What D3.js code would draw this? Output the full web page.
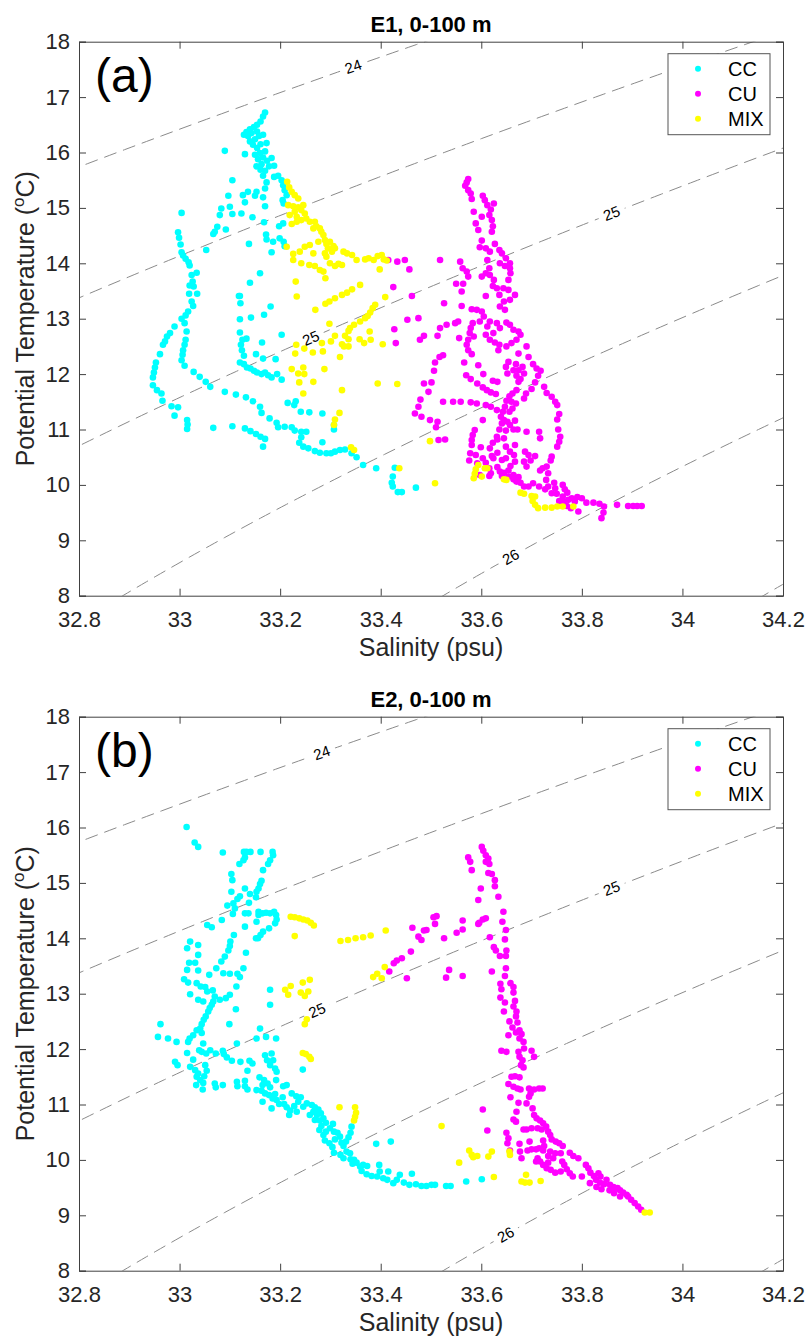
<!DOCTYPE html>
<html>
<head>
<meta charset="utf-8">
<script src="https://cdn.jsdelivr.net/npm/d3@7"></script>
<style>
  body { margin: 0; background: #fff; }
  text { font-family: "Liberation Sans", Arial, sans-serif; }
</style>
</head>
<body>
<script>
// T-S data, [salinity (psu), potential temperature (C)]
var e1CC = [[33.170,16.72],[33.166,16.65],[33.161,16.56],[33.154,16.50],[33.148,16.46],[33.140,16.42],[33.133,16.37],[33.128,16.32],[33.136,16.30],[33.143,16.35],[33.154,16.38],[33.158,16.30],[33.166,16.32],[33.150,16.24],[33.140,16.20],[33.146,16.14],[33.154,16.08],[33.161,16.15],[33.173,16.17],[33.170,16.02],[33.160,15.99],[33.150,15.96],[33.156,15.88],[33.166,15.91],[33.174,15.85],[33.163,15.79],[33.153,15.75],[33.161,15.69],[33.170,15.67],[33.178,15.75],[33.166,15.58],[33.183,15.90],[33.188,15.76],[33.130,15.97],[33.090,16.03],
  [33.188,15.56],[33.196,15.58],[33.203,15.50],[33.206,15.41],[33.209,15.32],[33.205,15.14],[33.207,15.08],[33.213,15.23],
  [33.173,15.46],[33.170,15.35],[33.153,15.29],[33.150,15.22],[33.136,15.29],[33.126,15.23],[33.130,15.10],[33.166,15.19],[33.170,15.03],[33.145,14.83],[33.123,14.90],[33.105,14.89],[33.100,15.02],[33.097,15.22],[33.105,15.50],[33.083,14.99],[33.080,14.87],[33.075,14.66],[33.070,14.57],[33.067,14.53],[33.092,14.61],[33.053,14.24],[33.138,14.35],[33.168,14.74],[33.172,14.52],[33.173,14.43],[33.186,14.39],[33.183,14.20],[33.199,14.45],[33.207,14.39],[33.209,14.31],[33.198,14.67],[33.206,14.72],[33.160,13.82],[33.140,13.65],[33.118,13.41],[33.004,14.91],
  [32.997,14.56],[32.999,14.46],[33.002,14.34],[33.004,14.20],[33.007,14.14],[33.012,14.08],[33.018,14.02],[33.020,13.96],[33.024,13.79],[33.034,13.83],[33.026,13.67],[33.020,13.60],[33.028,13.58],[33.035,13.45],[33.019,13.45],
  [33.024,13.31],[33.027,13.23],[33.017,13.13],[33.012,13.06],[33.004,13.00],[33.010,12.92],[32.990,12.86],[32.981,12.74],[32.975,12.68],[32.971,12.59],[32.967,12.53],[32.961,12.36],[32.953,12.21],[32.951,12.12],[32.949,12.03],[32.947,11.94],[32.947,11.80],[32.955,11.71],[32.964,11.65],[32.966,11.52],[32.984,11.42],[32.997,11.40],[32.990,11.25],
  [33.014,12.77],[33.012,12.62],[33.010,12.53],[33.007,12.43],[33.006,12.35],[33.004,12.25],[33.010,12.15],[33.028,12.04],[33.040,11.95],[33.052,11.86],[33.061,11.77],[33.090,11.68],[33.112,11.63],[33.132,11.58],[33.146,11.51],[33.160,11.41],[33.163,11.30],[33.179,11.20],[33.193,11.12],[33.196,11.04],[33.209,11.05],[33.223,11.04],[33.229,10.98],[33.242,10.96],[33.252,10.96],[33.242,10.86],[33.238,10.76],[33.246,10.69],[33.256,10.66],[33.269,10.61],[33.279,10.58],[33.292,10.57],[33.301,10.57],[33.309,10.60],[33.319,10.63],[33.329,10.64],[33.342,10.57],[33.352,10.50],
  [33.015,11.17],[33.016,11.09],[33.015,11.01],[33.067,11.03],[33.105,11.06],[33.130,11.02],[33.141,10.97],[33.152,10.92],[33.161,10.87],[33.170,10.83],[33.166,10.69],
  [33.120,13.41],[33.121,13.28],[33.120,12.99],[33.120,12.75],[33.125,12.62],[33.133,12.64],[33.122,12.53],[33.124,12.43],[33.128,12.33],[33.120,12.21],[33.128,12.18],[33.134,12.12],[33.141,12.10],[33.148,12.06],[33.154,12.03],[33.163,12.00],[33.170,12.03],[33.176,11.98],[33.183,11.94],[33.194,12.00],[33.203,11.90],[33.142,13.02],[33.168,13.07],[33.181,13.22],[33.164,12.57],[33.152,12.36],[33.166,12.28],[33.191,12.27],[33.203,12.71],[33.215,11.48],[33.231,11.51],[33.228,11.44],[33.241,11.32],[33.258,11.31],[33.284,11.29],[33.307,11.08],[33.307,11.00],[33.284,10.77],
  [33.365,10.36],[33.391,10.30],[33.428,10.31],[33.424,10.15],[33.422,10.04],[33.424,9.97],[33.434,9.87],[33.442,9.87],[33.470,9.95]];

var e1CU = [[33.574,15.52],[33.571,15.46],[33.568,15.40],[33.574,15.32],[33.579,15.26],[33.581,15.16],[33.603,15.22],[33.607,15.14],[33.612,15.05],[33.625,15.08],[33.619,14.97],[33.616,14.87],[33.621,14.78],[33.623,14.67],[33.621,14.57],[33.585,14.93],[33.601,14.84],[33.589,14.72],[33.594,14.60],[33.601,14.41],[33.597,14.29],[33.609,14.27],[33.617,14.21],[33.627,14.35],[33.636,14.24],[33.641,14.18],[33.649,14.09],[33.657,14.00],[33.647,13.95],[33.637,14.00],[33.612,14.06],[33.616,13.91],[33.609,13.82],[33.601,13.76],[33.617,13.79],[33.625,13.70],[33.623,13.59],[33.631,13.55],[33.636,13.43],[33.644,13.55],[33.654,13.52],[33.654,13.70],[33.658,13.82],[33.657,13.91],[33.667,13.43],[33.657,13.34],[33.645,13.31],[33.637,13.22],[33.647,13.16],[33.609,13.41],
  [33.558,14.03],[33.563,13.91],[33.571,13.85],[33.574,13.76],[33.550,13.63],[33.564,13.63],[33.561,13.49],[33.561,13.23],[33.526,13.28],[33.581,13.17],[33.591,13.16],[33.601,13.13],[33.605,13.04],[33.617,12.95],[33.612,12.86],[33.631,12.92],[33.637,12.83],[33.650,12.93],[33.657,12.89],[33.664,12.80],[33.674,12.77],[33.678,12.71],[33.670,12.62],[33.660,12.56],[33.650,12.50],[33.634,12.43],[33.624,12.74],[33.609,12.71],[33.617,12.62],[33.627,12.57],[33.636,12.53],[33.583,12.92],[33.579,12.83],[33.577,12.74],[33.585,12.68],[33.574,12.62],[33.571,12.53],[33.574,12.43],[33.581,12.36],[33.597,12.95],[33.548,12.92],[33.554,12.95],[33.531,12.89],[33.518,12.83],[33.513,12.69],[33.486,12.69],[33.478,12.62],[33.556,12.65],[33.690,12.50],[33.694,12.31],[33.674,12.37],[33.518,14.06],[33.448,14.06],[33.457,13.89],[33.462,13.41],[33.475,13.01],[33.453,12.98],[33.524,12.34],[33.517,12.31],
  [33.415,14.06],[33.433,14.03],[33.425,13.57],[33.430,12.56],[33.427,12.81],
  [33.508,12.21],[33.506,12.06],[33.501,11.85],[33.495,11.68],[33.486,11.83],[33.479,11.54],[33.475,11.41],[33.468,11.29],[33.481,11.23],[33.498,11.17],[33.513,11.14],[33.510,11.04],[33.524,11.50],[33.544,11.50],[33.559,11.50],[33.579,11.49],[33.591,11.47],[33.515,10.81],[33.528,10.82],[33.566,12.21],[33.594,12.16],[33.570,11.98],[33.579,11.91],[33.592,11.83],[33.604,12.00],[33.603,11.76],[33.611,11.71],[33.619,11.67],[33.629,11.64],[33.623,11.88],[33.632,11.86],[33.609,11.44],[33.619,11.41],[33.631,11.35],[33.603,11.17],[33.587,10.99],[33.583,10.90],[33.581,10.81],[33.581,10.72],[33.576,10.44],[33.589,10.54],[33.599,10.68],[33.592,10.39],[33.603,10.48],[33.609,10.40],[33.617,10.66],[33.623,10.76],[33.621,10.52],[33.616,10.30],[33.619,10.21],[33.624,10.48],[33.632,10.58],[33.641,10.45],[33.649,10.48],[33.632,10.32],[33.631,10.87],[33.636,11.00],[33.632,10.82],[33.641,11.11],[33.645,11.17],[33.639,11.23],[33.643,11.32],[33.647,11.41],[33.650,11.52],[33.656,11.60],[33.662,11.65],[33.670,11.71],[33.674,11.86],[33.670,11.97],[33.664,12.07],[33.674,12.07],[33.652,12.01],[33.649,12.13],[33.654,12.22],[33.669,12.18],[33.682,12.13],[33.685,12.01],[33.678,11.91],[33.660,11.50],[33.669,11.47],[33.662,11.38],[33.656,11.32],[33.652,11.14],[33.657,11.08],[33.667,11.16],[33.672,11.00],[33.664,11.00],[33.649,10.98],[33.645,10.84],[33.649,10.69],[33.657,10.60],[33.667,10.72],[33.665,10.54],[33.667,10.42],[33.658,10.34],[33.654,10.26],[33.645,10.22],[33.641,10.16],[33.654,10.15],[33.664,10.18],[33.674,10.14],[33.678,10.04],[33.685,9.97],[33.687,10.60],[33.694,10.54],[33.685,10.42],[33.690,10.33],[33.698,10.44],[33.707,10.52],[33.690,10.96],[33.715,10.96],[33.717,10.84],[33.689,11.65],[33.700,11.73],[33.685,11.56],[33.707,11.85],[33.713,11.97],[33.718,12.06],[33.710,12.10],[33.703,12.18],[33.725,11.77],[33.730,11.66],[33.740,11.59],[33.747,11.50],[33.751,11.44],[33.755,11.28],[33.751,11.18],[33.753,11.00],[33.757,10.87],[33.755,10.78],[33.751,10.69],[33.740,10.51],[33.738,10.44],[33.730,10.33],[33.722,10.30],[33.717,10.26],[33.733,10.21],[33.729,10.09],[33.703,10.03],[33.694,9.97],[33.715,9.97],[33.727,9.92],[33.733,9.97],[33.745,10.04],[33.747,9.94],[33.740,9.85],[33.750,9.84],[33.762,10.00],[33.766,9.92],[33.771,9.86],[33.762,9.79],[33.755,9.71],[33.764,9.70],[33.773,9.73],[33.780,9.76],[33.786,9.70],[33.791,9.78],[33.800,9.76],[33.770,9.62],[33.778,9.58],[33.793,9.52],[33.809,9.68],[33.823,9.68],[33.835,9.66],[33.844,9.61],[33.843,9.50],[33.839,9.40],[33.870,9.64],[33.892,9.62],[33.902,9.62],[33.910,9.62],[33.919,9.62],[33.578,10.57],[33.597,10.18],[33.616,10.16],[33.637,10.24],[33.664,10.10],[33.670,10.06]];

var e1MIX = [[33.214,15.47],[33.218,15.37],[33.223,15.29],[33.229,15.23],[33.236,15.17],[33.216,15.05],[33.226,15.03],[33.236,15.01],[33.246,15.05],[33.242,14.96],[33.229,14.93],[33.219,14.87],[33.233,14.84],[33.249,14.90],[33.252,14.81],[33.242,14.78],[33.259,14.75],[33.223,14.71],[33.233,14.75],[33.269,14.75],[33.272,14.67],[33.266,14.63],[33.279,14.63],[33.282,14.57],[33.286,14.51],[33.276,14.39],[33.289,14.42],[33.292,14.35],[33.295,14.27],[33.289,14.18],[33.292,14.12],[33.259,14.33],[33.249,14.30],[33.239,14.21],[33.226,14.17],[33.213,14.30],[33.226,14.06],[33.242,14.00],[33.258,13.97],[33.269,13.95],[33.279,13.88],[33.286,13.85],[33.266,14.18],[33.231,13.67],[33.233,13.40],
  [33.299,14.39],[33.306,14.31],[33.303,14.21],[33.309,14.27],[33.299,14.00],[33.309,13.95],[33.316,13.99],[33.323,13.97],[33.326,14.21],[33.333,14.18],[33.343,14.15],[33.352,14.06],[33.369,14.07],[33.376,14.09],[33.386,14.06],[33.394,14.13],[33.402,14.15],[33.406,14.07],[33.398,13.89],[33.412,14.05],[33.290,13.73],
  [33.359,13.61],[33.343,13.53],[33.333,13.47],[33.323,13.43],[33.309,13.37],[33.298,13.31],[33.290,13.27],[33.270,13.16],[33.409,13.39],[33.389,13.25],[33.384,13.19],[33.379,13.11],[33.374,13.05],[33.369,13.01],[33.359,12.95],[33.347,12.89],[33.339,12.83],[33.336,12.78],[33.298,12.91],[33.309,12.69],[33.329,12.69],[33.336,12.63],[33.323,12.54],[33.327,12.50],[33.336,12.50],[33.319,12.31],[33.301,12.59],[33.283,12.56],[33.285,12.41],[33.265,12.39],[33.248,12.46],[33.232,12.53],[33.230,12.37],[33.358,12.63],[33.367,12.56],[33.378,12.77],[33.380,12.62],[33.404,12.54],[33.288,12.09],[33.223,12.09],[33.236,12.01],[33.246,12.12],[33.248,12.00],[33.238,11.85],[33.266,11.86],[33.246,11.65],[33.323,11.71],[33.394,11.83],[33.433,11.82],[33.318,11.30],[33.309,11.18],[33.307,11.08],[33.341,10.68],[33.347,10.63],[33.437,10.30],[33.498,10.79],[33.508,10.03],
  [33.594,10.36],[33.589,10.28],[33.587,10.20],[33.585,10.12],[33.601,10.15],[33.607,10.30],[33.612,10.30],[33.645,10.10],[33.650,10.09],[33.678,9.86],[33.685,9.84],[33.700,9.80],[33.707,9.79],[33.702,9.71],[33.707,9.64],[33.713,9.58],[33.727,9.59],[33.740,9.59],[33.751,9.61],[33.762,9.61],[33.783,9.61]];

var e2CC = [[33.014,16.01],[33.030,15.73],[33.037,15.65],[33.086,15.55],[33.128,15.56],[33.133,15.56],[33.141,15.56],[33.161,15.56],[33.185,15.56],[33.130,15.46],[33.127,15.41],[33.119,15.34],[33.103,15.16],[33.105,15.05],[33.103,14.84],[33.115,14.71],[33.120,14.76],[33.130,14.90],[33.140,14.80],[33.138,14.64],[33.107,14.63],[33.095,14.59],[33.110,14.54],[33.106,14.44],[33.084,14.33],[33.055,14.24],[33.064,14.20],
  [33.186,15.50],[33.180,15.41],[33.176,15.34],[33.166,15.23],[33.163,15.04],[33.160,14.98],[33.157,14.90],[33.153,14.84],[33.152,14.74],[33.130,14.45],[33.137,14.45],[33.157,14.48],[33.165,14.45],[33.172,14.46],[33.180,14.45],[33.188,14.48],[33.192,14.42],[33.193,14.34],[33.190,14.27],[33.153,14.30],[33.157,14.42],[33.178,14.18],[33.166,14.12],[33.161,14.06],[33.156,14.00],[33.152,14.00],[33.130,14.21],
  [33.108,14.06],[33.101,13.94],[33.100,13.86],[33.097,13.78],[33.090,13.67],[33.083,13.58],[33.073,13.46],[33.087,13.37],[33.100,13.36],[33.115,13.36],[33.120,13.30],[33.113,13.13],[33.127,13.46],[33.132,13.74],[33.059,13.34],[33.021,13.94],[33.015,13.82],[33.037,13.88],[33.037,13.70],[33.019,13.56],[33.031,13.56],[33.015,13.43],[33.037,13.42],[33.009,13.26],[33.017,13.20],[33.034,13.19],[33.042,13.13],[33.051,13.12],[33.055,13.04],[33.066,13.06],[33.070,12.95],[33.067,12.86],[33.064,12.80],[33.060,12.74],[33.057,12.68],[33.052,12.59],[33.048,12.53],[33.044,12.45],[33.041,12.37],[33.034,12.34],[33.044,12.29],[33.021,12.99],[33.037,12.89],[33.047,12.86],[33.080,12.89],[33.092,12.92],[33.100,12.98],[33.112,12.72],[33.099,12.45],[32.962,12.45],[32.957,12.22],[32.977,12.19],[33.020,12.19],[33.027,12.25],[33.180,13.07],[33.180,12.80],[33.160,12.37],[33.153,12.19],[33.172,12.22],[33.192,12.19],
  [32.994,12.13],[33.017,12.13],[33.047,12.10],[33.039,11.98],[33.044,11.95],[33.053,11.92],[33.061,11.98],[33.072,11.92],[33.086,11.97],[33.088,11.91],[33.094,11.85],[33.104,11.79],[33.121,11.77],[33.139,11.79],[33.145,11.74],[33.015,11.93],[33.027,11.81],[32.991,11.77],[32.996,11.71],[33.021,11.68],[33.031,11.62],[33.037,11.56],[33.034,11.50],[33.041,11.44],[33.047,11.39],[33.033,11.35],[33.046,11.27],[33.051,11.71],[33.054,11.61],[33.049,11.51],[33.070,11.38],[33.072,11.31],[33.086,11.35],[33.114,12.10],[33.114,11.41],[33.115,11.33],[33.130,11.43],[33.135,11.61],[33.130,11.33],[33.135,11.27],
  [33.170,11.89],[33.174,11.80],[33.183,11.92],[33.186,11.80],[33.180,11.71],[33.190,11.65],[33.193,11.59],[33.192,11.44],[33.159,11.49],[33.168,11.44],[33.165,11.35],[33.175,11.38],[33.180,11.31],[33.153,11.26],[33.163,11.25],[33.170,11.20],[33.178,11.17],[33.165,11.05],[33.185,11.11],[33.190,11.19],[33.193,11.08],[33.198,11.01],[33.183,10.93],[33.206,11.33],[33.213,11.35],[33.205,11.13],[33.208,11.01],[33.213,10.95],[33.220,10.89],[33.218,10.81],[33.223,11.20],[33.232,11.15],[33.241,11.13],[33.236,11.05],[33.246,10.96],[33.228,10.97],[33.233,10.87],[33.253,11.02],[33.263,10.99],[33.269,10.95],[33.276,10.91],[33.266,10.87],[33.259,10.81],[33.273,10.81],[33.281,10.84],[33.269,10.72],[33.279,10.71],[33.286,10.75],[33.291,10.67],[33.282,10.61],[33.278,10.54],[33.291,10.51],[33.299,10.57],[33.305,10.65],[33.307,10.51],[33.314,10.49],[33.319,10.42],[33.286,10.45],[33.289,10.35],[33.298,10.30],[33.307,10.13],[33.322,10.31],[33.326,10.25],[33.331,10.33],[33.336,10.41],[33.340,10.49],[33.342,10.60],[33.320,10.09],[33.326,10.03],[33.332,10.15],[33.339,10.12],[33.340,10.01],[33.347,10.00],[33.352,9.95],[33.344,9.93],[33.359,9.88],[33.365,9.91],[33.373,9.89],[33.362,9.80],[33.372,9.74],[33.382,9.71],[33.393,9.70],[33.398,9.79],[33.397,9.91],[33.405,9.67],[33.413,9.64],[33.415,9.79],[33.425,9.58],[33.432,9.64],[33.438,9.73],[33.446,9.59],[33.462,9.75],[33.457,9.55],[33.470,9.56],[33.481,9.53],[33.491,9.53],[33.501,9.55],[33.508,9.55],[33.530,9.53],[33.539,9.53],[33.570,9.61],[33.601,9.65],[33.391,10.29],[33.420,10.33],[33.304,10.23],[33.309,10.37],[33.245,11.63]];

var e2CU = [[33.601,15.65],[33.604,15.58],[33.609,15.50],[33.614,15.44],[33.609,15.38],[33.616,15.34],[33.574,15.46],[33.578,15.38],[33.581,15.23],[33.614,15.18],[33.621,15.16],[33.627,15.05],[33.627,14.94],[33.599,14.90],[33.634,14.75],[33.594,14.69],[33.644,14.48],[33.642,14.30],[33.649,14.15],[33.647,13.98],[33.650,13.78],[33.649,13.68],[33.609,14.36],[33.603,14.34],[33.596,14.28],[33.594,14.26],[33.617,14.02],[33.625,13.84],[33.629,13.78],[33.637,13.68],[33.621,13.40],[33.649,13.46],[33.647,13.32],[33.638,13.18],[33.640,13.08],[33.658,13.19],[33.664,13.12],[33.664,13.02],[33.638,12.93],[33.647,12.84],[33.667,12.87],[33.645,12.68],[33.664,12.77],[33.670,12.68],[33.669,12.59],[33.656,12.50],[33.672,12.48],[33.662,12.39],[33.676,12.34],[33.669,12.30],[33.654,12.25],[33.680,12.27],[33.676,12.19],[33.684,12.13],[33.640,11.97],[33.650,11.95],[33.674,11.95],[33.685,12.01],[33.700,11.97],[33.705,11.86],[33.676,11.86],[33.682,11.80],[33.679,11.71],[33.684,11.67],[33.660,11.50],[33.667,11.51],[33.676,11.49],[33.654,11.37],[33.664,11.32],[33.672,11.29],[33.678,11.27],[33.695,11.29],[33.705,11.27],[33.715,11.29],[33.722,11.29],[33.698,11.20],[33.695,11.14],[33.658,11.13],[33.690,11.02],[33.674,11.03],[33.702,10.93],[33.670,10.87],[33.664,10.73],[33.669,10.69],[33.705,10.81],[33.710,10.75],[33.717,10.71],[33.723,10.66],[33.729,10.60],[33.684,10.55],[33.690,10.55],[33.700,10.57],[33.712,10.57],[33.720,10.55],[33.733,10.51],[33.737,10.45],[33.740,10.37],[33.748,10.33],[33.755,10.30],[33.762,10.25],[33.723,10.35],[33.725,10.25],[33.723,10.17],[33.715,10.21],[33.709,10.19],[33.700,10.19],[33.692,10.17],[33.696,10.33],[33.676,10.29],[33.677,10.15],[33.680,10.03],[33.650,10.49],[33.654,10.39],[33.652,10.30],[33.657,10.17],[33.737,10.15],[33.747,10.12],[33.758,10.12],[33.733,10.07],[33.743,10.03],[33.733,9.95],[33.712,10.03],[33.717,9.97],[33.709,9.97],[33.723,9.91],[33.730,9.85],[33.738,9.82],[33.747,9.77],[33.758,9.79],[33.765,9.91],[33.761,9.97],[33.770,9.83],[33.776,9.76],[33.782,9.70],[33.776,10.13],[33.783,10.07],[33.793,10.03],[33.800,9.70],[33.808,9.91],[33.813,9.85],[33.817,9.77],[33.824,9.71],[33.833,9.76],[33.837,9.70],[33.828,9.64],[33.836,9.59],[33.844,9.56],[33.849,9.64],[33.856,9.55],[33.863,9.51],[33.871,9.49],[33.876,9.45],[33.882,9.41],[33.889,9.37],[33.892,9.34],[33.816,9.58],[33.829,9.51],[33.839,9.47],[33.855,9.45],[33.864,9.40],[33.876,9.34],[33.898,9.28],[33.905,9.22],[33.912,9.16],[33.918,9.10],
  [33.505,14.38],[33.511,14.40],[33.508,14.26],[33.491,14.15],[33.486,14.14],[33.463,14.19],[33.475,14.03],[33.481,13.97],[33.526,14.00],[33.551,14.10],[33.563,14.16],[33.563,14.32],[33.460,13.76],[33.442,13.64],[33.432,13.60],[33.426,13.55],[33.417,13.40],[33.452,13.28],[33.536,13.43],[33.530,13.29],[33.563,13.32],[33.603,10.91],[33.612,10.53]];

var e2MIX = [[33.221,14.39],[33.229,14.38],[33.238,14.36],[33.246,14.34],[33.254,14.32],[33.261,14.28],[33.267,14.23],[33.229,14.04],[33.221,13.14],[33.216,12.98],[33.210,13.07],[33.245,13.20],[33.259,13.25],[33.241,13.02],[33.249,12.96],[33.256,13.04],[33.253,12.54],[33.249,12.45],
  [33.245,11.93],[33.251,11.91],[33.258,11.86],[33.261,11.82],[33.318,10.95],[33.349,10.95],[33.351,10.85],[33.349,10.78],[33.347,10.71],[33.521,10.61],[33.576,10.17],[33.581,10.09],[33.584,10.05],[33.592,10.07],[33.556,9.95],[33.614,10.06],
  [33.410,14.14],[33.408,13.48],[33.402,13.28],[33.621,10.15],[33.656,10.15],[33.657,10.09],[33.625,9.69],[33.680,9.61],[33.687,9.59],[33.696,9.59],[33.689,9.73],[33.718,9.62],
  [33.320,13.95],[33.335,13.97],[33.350,14.00],[33.365,14.02],[33.380,14.05],[33.385,13.30],[33.393,13.36],[33.925,9.05],[33.935,9.05]];

// axis settings
var xTicks = [32.8, 33, 33.2, 33.4, 33.6, 33.8, 34, 34.2];
var yTicks = [8, 9, 10, 11, 12, 13, 14, 15, 16, 17, 18];
var sigmaLevels = [24, 24.5, 25, 25.5, 26, 26.5];
var seriesNames = ["CC", "CU", "MIX"];
var seriesColors = ["#00ffff", "#ff00ff", "#ffff00"];

// EOS-80 surface density anomaly
function sigma0(S, T) {
    var T2 = T * T, T3 = T2 * T, T4 = T3 * T, T5 = T4 * T;
    var rw = 999.842594 + 6.793952e-2 * T - 9.095290e-3 * T2 + 1.001685e-4 * T3 - 1.120083e-6 * T4 + 6.536332e-9 * T5;
    var A = 0.824493 - 4.0899e-3 * T + 7.6438e-5 * T2 - 8.2467e-7 * T3 + 5.3875e-9 * T4;
    var B = -5.72466e-3 + 1.0227e-4 * T - 1.6546e-6 * T2;
    return rw + A * S + B * Math.pow(S, 1.5) + 4.8314e-4 * S * S - 1000;
}
var sigOffset = 0.115;
function isoline(level) {
    var pts = [];
    for (var T = 6; T <= 20.001; T += 0.05) {
        var lo = 30, hi = 37;
        for (var k = 0; k < 40; k++) {
            var mid = (lo + hi) / 2;
            if (sigma0(mid, T) < level + sigOffset) lo = mid; else hi = mid;
        }
        pts.push([(lo + hi) / 2, T]);
    }
    return pts;
}

var W = 809, H = 1338;
var svg = d3.select("body").append("svg").attr("width", W).attr("height", H)
    .style("background", "#fff");

var margin = { left: 79, right: 783, h: 554 };

var panels = [
    { top: 41.7, title: "E1, 0-100 m", tag: "(a)", cc: e1CC, cu: e1CU, mix: e1MIX,
      labels: [[24, 33.339], [25, 33.856], [25, 33.259], [26, 33.657]] },
    { top: 716.7, title: "E2, 0-100 m", tag: "(b)", cc: e2CC, cu: e2CU, mix: e2MIX,
      labels: [[24, 33.283], [25, 33.862], [25, 33.271], [26, 33.647]] }
];

panels.forEach(function (p, pi) {
    var x = d3.scaleLinear().domain([32.8, 34.2]).range([margin.left, margin.right]);
    var y = d3.scaleLinear().domain([8, 18]).range([p.top + margin.h, p.top]);
    var g = svg.append("g");
    var clipId = "clip" + pi;
    g.append("clipPath").attr("id", clipId).append("rect")
        .attr("x", margin.left).attr("y", p.top)
        .attr("width", margin.right - margin.left).attr("height", margin.h);

    // isopycnals
    var line = d3.line().x(function (d) { return x(d[0]); }).y(function (d) { return y(d[1]); });
    var cg = g.append("g").attr("clip-path", "url(#" + clipId + ")");
    var curves = {};
    sigmaLevels.forEach(function (lv) {
        var pts = isoline(lv);
        curves[lv] = pts;
        cg.append("path").attr("d", line(pts)).attr("fill", "none")
            .attr("stroke", "#8a8a8a").attr("stroke-width", 1)
            .attr("stroke-dasharray", "13,7");
    });
    p.labels.forEach(function (lb) {
        var pts = curves[lb[0]];
        var best = d3.minIndex(pts, function (d) { return Math.abs(d[0] - lb[1]); });
        var a = pts[Math.max(best - 3, 0)], b = pts[Math.min(best + 3, pts.length - 1)];
        var ang = Math.atan2(y(b[1]) - y(a[1]), x(b[0]) - x(a[0])) * 180 / Math.PI;
        if (ang > 90) ang -= 180;
        if (ang < -90) ang += 180;
        var lg = cg.append("g").attr("transform", "translate(" + x(pts[best][0]) + "," + y(pts[best][1]) + ") rotate(" + ang + ")");
        lg.append("rect").attr("x", -14).attr("y", -8).attr("width", 28).attr("height", 16).attr("fill", "#fff");
        lg.append("text").attr("text-anchor", "middle").attr("dy", "0.35em")
            .attr("font-size", 15).attr("fill", "#000").text(lb[0]);
    });

    // points
    [p.cc, p.cu, p.mix].forEach(function (data, si) {
        g.append("g").selectAll("circle").data(data).enter().append("circle")
            .attr("cx", function (d) { return x(d[0]); })
            .attr("cy", function (d) { return y(d[1]); })
            .attr("r", 3.3)
            .attr("fill", seriesColors[si]);
    });

    // axes box with ticks inside on all sides
    var axCol = "#404040";
    var axB = d3.axisBottom(x).tickValues(xTicks).tickSize(-7).tickPadding(16).tickFormat(d3.format("~g"));
    var axT = d3.axisTop(x).tickValues(xTicks).tickSize(-7).tickFormat("");
    var axL = d3.axisLeft(y).tickValues(yTicks).tickSize(-7).tickPadding(9).tickFormat(d3.format("d"));
    var axR = d3.axisRight(y).tickValues(yTicks).tickSize(-7).tickFormat("");
    [[axB, "translate(0," + (p.top + margin.h) + ")"], [axT, "translate(0," + p.top + ")"],
     [axL, "translate(" + margin.left + ",0)"], [axR, "translate(" + margin.right + ",0)"]].forEach(function (a) {
        var ag = g.append("g").attr("transform", a[1]).call(a[0]);
        ag.select(".domain").attr("stroke", axCol).attr("stroke-width", 1);
        ag.selectAll(".tick line").attr("stroke", axCol);
        ag.selectAll("text").attr("font-size", 22).attr("fill", "#262626")
            .style("font-family", "'Liberation Sans', Arial, sans-serif");
    });

    // labels
    g.append("text").attr("x", (margin.left + margin.right) / 2).attr("y", p.top - 10)
        .attr("text-anchor", "middle").attr("font-size", 22).attr("font-weight", "bold")
        .text(p.title);
    g.append("text").attr("x", (margin.left + margin.right) / 2).attr("y", p.top + margin.h + 60)
        .attr("text-anchor", "middle").attr("font-size", 25).attr("fill", "#262626")
        .text("Salinity (psu)");
    var yl = g.append("text").attr("transform", "translate(34," + (p.top + margin.h / 2) + ") rotate(-90)")
        .attr("text-anchor", "middle").attr("font-size", 25).attr("fill", "#262626");
    yl.append("tspan").text("Potential Temperature (");
    yl.append("tspan").attr("font-size", 17).attr("dy", -10).text("o");
    yl.append("tspan").attr("dy", 10).text("C)");
    g.append("text").attr("x", 95).attr("y", p.top + 50)
        .attr("font-size", 48).attr("fill", "#000").text(p.tag);

    // legend
    var lgX = 668, lgY = p.top + 12;
    var leg = g.append("g");
    leg.append("rect").attr("x", lgX).attr("y", lgY).attr("width", 102).attr("height", 81)
        .attr("fill", "#fff").attr("stroke", "#555").attr("stroke-width", 1);
    seriesNames.forEach(function (nm, i) {
        leg.append("circle").attr("cx", lgX + 30).attr("cy", lgY + 15 + i * 25).attr("r", 3)
            .attr("fill", seriesColors[i]);
        leg.append("text").attr("x", lgX + 60).attr("y", lgY + 15 + i * 25).attr("dy", "0.36em")
            .attr("font-size", 20).attr("fill", "#000").text(nm);
    });
});
</script>
</body>
</html>
